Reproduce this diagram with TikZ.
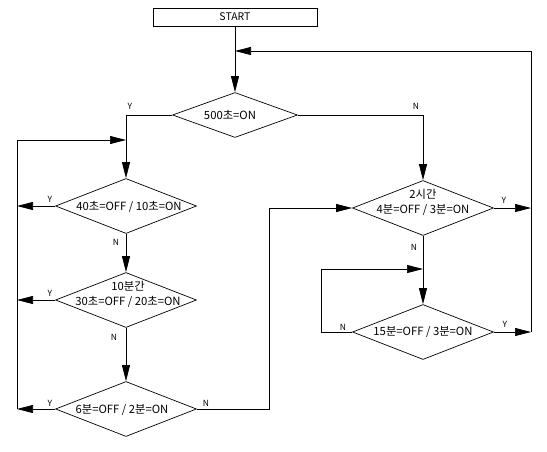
\documentclass[tikz,border=0pt]{standalone}
\usepackage{fontspec}
\setmainfont{Noto Sans CJK KR}
\usetikzlibrary{arrows.meta,shapes.geometric}
\begin{document}
\begin{tikzpicture}[x=1pt,y=-1pt, line width=0.7pt,
  dia/.style={draw, diamond, inner sep=0pt, minimum width=141pt, minimum height=55pt},
  arr/.style={-{Triangle[length=16pt,width=8pt]}},
  lbl/.style={font=\fontsize{8.5}{9}\selectfont, inner sep=0pt},
  txt/.style={font=\fontsize{11.3}{15}\selectfont, inner sep=0pt, align=center}]
\useasboundingbox (0,0) rectangle (547,451);
\fill[white] (0,0) rectangle (547,451);

% nodes
\node[draw, minimum width=164pt, minimum height=18pt, inner sep=0pt, font=\fontsize{10.5}{12}\selectfont] (start) at (235,17) {START};
\node[dia, minimum width=125pt, minimum height=45pt] (d1) at (235,115) {};
\node[dia] (d2) at (126,206) {};
\node[dia] (d3) at (126,300) {};
\node[dia] (d4) at (126,409) {};
\node[dia] (d5) at (423,208) {};
\node[dia] (d6) at (423,332) {};

% texts
\node[txt] (t1) at (230,115) {500초=ON};
\node[txt] (t2) at (129,207) {40초=OFF / 10초=ON};
\node[txt] (t3) at (128,294) {10분간\\30초=OFF / 20초=ON};
\node[txt] (t4) at (122,410) {6분=OFF / 2분=ON};
\node[txt] (t5) at (423,202) {2시간\\4분=OFF / 3분=ON};
\node[txt] (t6) at (423,332) {15분=OFF / 3분=ON};

% coordinates
\coordinate (fb) at (235,51);
\coordinate (rt) at (531,51);
\coordinate (ly) at (126,115);
\coordinate (ry) at (423,115);
\coordinate (lj) at (126,140);
\coordinate (lt) at (17,140);
\coordinate (l2) at (17,206);
\coordinate (l3) at (17,300);
\coordinate (l4) at (17,409);
\coordinate (n4) at (269,409);
\coordinate (n4t) at (269,208);
\coordinate (j6) at (423,269);
\coordinate (lp1) at (321,269);
\coordinate (lp2) at (321,332);
\coordinate (r5) at (531,208);
\coordinate (r6) at (531,332);

% connectors
\draw[arr] (start.south) -- (d1.north);
\draw (r6) -- (rt);
\draw[arr] (rt) -- (fb);
\draw (d1.west) -- (ly);
\draw[arr] (ly) -- (d2.north);
\draw (lt) -- (l4);
\draw[arr] (lt) -- (lj);
\draw[arr] (d2.west) -- (l2);
\draw[arr] (d2.south) -- (d3.north);
\draw[arr] (d3.west) -- (l3);
\draw[arr] (d3.south) -- (d4.north);
\draw[arr] (d4.west) -- (l4);
\draw[arr] (d4.east) -- (n4) -- (n4t) -- (d5.west);
\draw (d1.east) -- (ry);
\draw[arr] (ry) -- (d5.north);
\draw[arr] (d5.east) -- (r5);
\draw[arr] (d5.south) -- (d6.north);
\draw (d6.west) -- (lp2) -- (lp1);
\draw[arr] (lp1) -- (j6);
\draw[arr] (d6.east) -- (r6);

% Y/N labels
\node[lbl] (y1) at (130,106) {Y};
\node[lbl] (n1) at (416,106) {N};
\node[lbl] (y2) at (50,199) {Y};
\node[lbl] (n2) at (116,242) {N};
\node[lbl] (y3) at (50,293) {Y};
\node[lbl] (n3) at (114,337) {N};
\node[lbl] (y4) at (50,403) {Y};
\node[lbl] (n4l) at (206,403) {N};
\node[lbl] (y5) at (504,200) {Y};
\node[lbl] (n5) at (414,247) {N};
\node[lbl] (n6) at (343,327) {N};
\node[lbl] (y6) at (505,324) {Y};
\end{tikzpicture}
\end{document}
